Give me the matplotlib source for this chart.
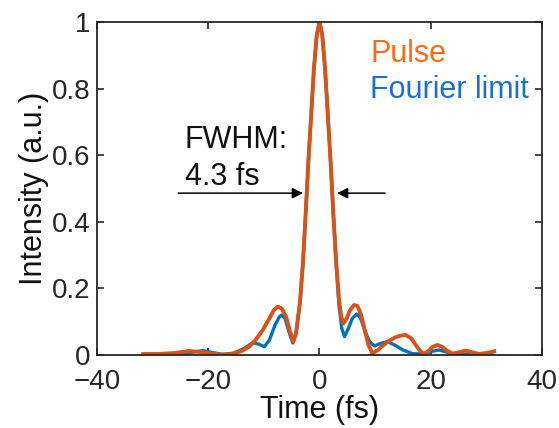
import matplotlib
matplotlib.use("Agg")
import matplotlib.pyplot as plt

plt.rcParams["font.family"] = ["Liberation Sans", "DejaVu Sans"]

# Pulse (orange)
pulse_t = [-31.7, -29.0, -26.0, -23.5, -21.0, -19.0, -17.4, -15.5, -14.0, -12.6,
           -11.5, -10.2, -9.0, -8.2, -7.5, -6.8, -6.0, -5.3, -4.7, -4.2,
           -3.5, -3.0, -2.5, -2.0, -1.5, -1.0, -0.5, 0.0, 0.5, 1.0,
           1.5, 2.0, 2.5, 3.0, 3.5, 3.9, 4.3, 4.9, 5.5, 6.2,
           6.8, 7.5, 8.2, 8.8, 9.5, 10.5, 11.5, 12.5, 13.5, 14.5,
           15.5, 16.5, 17.3, 18.1, 18.8, 19.6, 20.4, 21.2, 22.0, 23.0,
           23.9, 25.0, 26.3, 27.5, 28.7, 30.0, 31.4]
pulse_i = [0.003, 0.003, 0.006, 0.012, 0.008, 0.003, 0.001, 0.004, 0.012, 0.025,
           0.045, 0.075, 0.110, 0.135, 0.145, 0.140, 0.115, 0.070, 0.040, 0.065,
           0.160, 0.270, 0.420, 0.580, 0.720, 0.860, 0.960, 1.000, 0.960, 0.860,
           0.720, 0.580, 0.420, 0.280, 0.170, 0.115, 0.095, 0.110, 0.135, 0.150,
           0.148, 0.120, 0.070, 0.030, 0.005, 0.015, 0.030, 0.042, 0.052, 0.058,
           0.060, 0.050, 0.030, 0.012, 0.003, 0.012, 0.025, 0.030, 0.025, 0.012,
           0.004, 0.008, 0.013, 0.008, 0.003, 0.006, 0.011]

# Fourier limit (blue)
fl_t = [-31.0, -26.0, -23.0, -21.0, -19.5, -17.5, -15.5, -13.5, -12.0, -11.0,
        -9.9, -9.0, -8.0, -7.2, -6.8, -6.2, -5.5, -4.8, -4.2, -3.5,
        -3.0, -2.5, -2.0, -1.5, -1.0, -0.5, 0.0, 0.5, 1.0, 1.5,
        2.0, 2.5, 3.0, 3.5, 4.0, 4.5, 5.2, 5.9, 6.7, 7.4,
        8.2, 9.0, 9.9, 11.0, 12.2, 13.5, 15.0, 16.7, 18.5, 20.0,
        21.5, 23.0, 24.5, 27.0, 31.0]
fl_i = [0.000, 0.002, 0.008, 0.013, 0.008, 0.002, 0.005, 0.020, 0.037, 0.033,
        0.025, 0.045, 0.090, 0.115, 0.120, 0.110, 0.070, 0.036, 0.070, 0.160,
        0.270, 0.420, 0.580, 0.720, 0.860, 0.960, 1.000, 0.960, 0.860, 0.720,
        0.580, 0.420, 0.270, 0.150, 0.080, 0.055, 0.080, 0.110, 0.123, 0.110,
        0.070, 0.040, 0.027, 0.035, 0.040, 0.030, 0.015, 0.004, 0.003, 0.010,
        0.015, 0.008, 0.002, 0.002, 0.000]

x_ticks = [-40, -20, 0, 20, 40]
y_ticks = [0, 0.2, 0.4, 0.6, 0.8, 1]
y_tick_labels = ["0", "0.2", "0.4", "0.6", "0.8", "1"]

fig = plt.figure(figsize=(5.59, 4.28), dpi=100)
ax = fig.add_axes([0.1735, 0.1706, 0.7961, 0.778])

ax.plot(fl_t, fl_i, color="#0072BD", lw=2.4, solid_joinstyle="round")
ax.plot(pulse_t, pulse_i, color="#D95319", lw=2.8, solid_joinstyle="round")

ax.set_xlim(-40, 40)
ax.set_ylim(0, 1)
ax.set_xticks(x_ticks)
ax.set_yticks(y_ticks)
ax.set_yticklabels(y_tick_labels)

dark = "#262626"
for sp in ax.spines.values():
    sp.set_color(dark)
    sp.set_linewidth(1.3)
ax.tick_params(direction="in", length=5, width=1.2, colors=dark,
               labelsize=20, top=True, right=True)
ax.tick_params(axis="x", pad=10)
ax.tick_params(axis="y", pad=5)

ax.set_xlabel("Time (fs)", fontsize=22, color="#111111", labelpad=0)
ax.set_ylabel("Intensity (a.u.)", fontsize=22, color="#111111", labelpad=2)

# legend as coloured text
ax.text(9.1, 0.88, "Pulse", color="#FF6A13", fontsize=22, va="baseline")
ax.text(9.1, 0.772, "Fourier limit", color="#1A6FD6", fontsize=22, va="baseline")

# FWHM annotation
ax.text(-24.2, 0.622, "FWHM:", fontsize=22, color="#111111", va="baseline")
ax.text(-24.2, 0.51, "4.3 fs", fontsize=22, color="#111111", va="baseline")
arrow = dict(arrowstyle="-|>", color="black", lw=1.1, mutation_scale=16,
             shrinkA=0, shrinkB=0)
ax.annotate("", xy=(-2.97, 0.486), xytext=(-25.4, 0.486), arrowprops=arrow)
ax.annotate("", xy=(3.15, 0.486), xytext=(11.8, 0.486), arrowprops=arrow)

fig.savefig("out.png", dpi=100)
